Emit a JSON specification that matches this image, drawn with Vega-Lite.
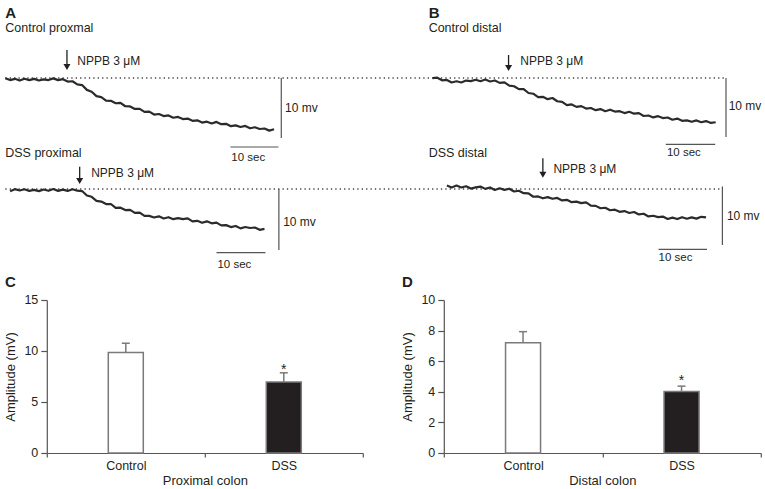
{
  "$schema": "https://vega.github.io/schema/vega-lite/v6.json",
  "padding": {"left": 3.8, "top": 0, "right": 0, "bottom": 0},
  "background": "white",
  "config": {
    "font": "Liberation Sans",
    "view": {"stroke": null},
    "axis": {"domainColor": "#555", "tickColor": "#555", "labelColor": "#231f20", "titleColor": "#231f20", "labelFontSize": 12.5, "titleFontSize": 13, "titleFontWeight": "normal", "domainWidth": 1.2, "tickWidth": 1.2, "grid": false},
    "title": {"fontSize": 15, "fontWeight": "bold", "anchor": "start", "color": "#231f20", "offset": 0}
  },
  "spacing": 30,
  "bounds": "flush",
  "vconcat": [
    {
      "width": 714,
      "height": 270,
      "layer": [
        {
          "data": {"values": [
            {"t": 0, "t2": 150.15, "v": 32},
            {"t": 0, "t2": 149.4, "v": 13.5}
          ]},
          "mark": {"type": "rule", "color": "#444", "strokeWidth": 1.3, "strokeDash": [1.3, 3.1]},
          "encoding": {
            "x": {"field": "t", "type": "quantitative", "scale": {"domain": [8.65, 157.4], "nice": false, "zero": false}, "axis": null},
            "x2": {"field": "t2"},
            "y": {"field": "v", "type": "quantitative", "scale": {"domain": [0, 45], "nice": false, "zero": false}, "axis": null}
          }
        },
        {
          "data": {"values": [
            {"t": 57.5, "t2": 57.5, "v": 32, "v2": 22},
            {"t": 57.0, "t2": 57.0, "v": 13.5, "v2": 3.33},
            {"t": 150.15, "t2": 150.15, "v": 32, "v2": 22.17},
            {"t": 149.4, "t2": 149.4, "v": 13.9, "v2": 4.17},
            {"t": 46.9, "t2": 56.9, "v": 20.5, "v2": 20.5},
            {"t": 44.0, "t2": 54.2, "v": 2.88, "v2": 2.88},
            {"t": 137.6, "t2": 147.9, "v": 20.95, "v2": 20.95},
            {"t": 136.1, "t2": 146.2, "v": 3.45, "v2": 3.45}
          ]},
          "mark": {"type": "rule", "color": "#555", "strokeWidth": 1.2},
          "encoding": {
            "x": {"field": "t", "type": "quantitative"},
            "x2": {"field": "t2"},
            "y": {"field": "v", "type": "quantitative"},
            "y2": {"field": "v2"}
          }
        },
        {
          "data": {"values": [
            {"t": 12.85, "v": 36.67, "v2": 34.0, "tv": 33.83},
            {"t": 15.5, "v": 17.22, "v2": 15.0, "tv": 14.83},
            {"t": 104.85, "v": 35.83, "v2": 33.85, "tv": 33.67},
            {"t": 112.0, "v": 18.62, "v2": 16.05, "tv": 15.88}
          ]},
          "layer": [
            {
              "mark": {"type": "rule", "color": "#231f20", "strokeWidth": 1.3},
              "encoding": {
                "x": {"field": "t", "type": "quantitative"},
                "y": {"field": "v", "type": "quantitative"},
                "y2": {"field": "v2"}
              }
            },
            {
              "mark": {"type": "point", "shape": "triangle-down", "size": 49, "filled": true, "color": "#231f20", "opacity": 1, "strokeWidth": 0},
              "encoding": {
                "x": {"field": "t", "type": "quantitative"},
                "y": {"field": "tv", "type": "quantitative"}
              }
            }
          ]
        },
        {
          "data": {"values": [
            {"s":"A1","t":0,"v":31.97},{"s":"A1","t":1,"v":31.65},{"s":"A1","t":2,"v":31.86},{"s":"A1","t":3,"v":31.57},{"s":"A1","t":4,"v":31.87},{"s":"A1","t":5,"v":31.65},{"s":"A1","t":6,"v":31.85},{"s":"A1","t":7,"v":31.58},{"s":"A1","t":8,"v":31.77},{"s":"A1","t":9,"v":31.66},{"s":"A1","t":10,"v":31.94},{"s":"A1","t":11,"v":31.65},{"s":"A1","t":12,"v":31.8},{"s":"A1","t":13,"v":31.41},{"s":"A1","t":14,"v":31.46},{"s":"A1","t":15,"v":30.93},{"s":"A1","t":16,"v":30.82},{"s":"A1","t":17,"v":30.02},{"s":"A1","t":18,"v":29.71},{"s":"A1","t":19,"v":28.97},{"s":"A1","t":20,"v":28.8},{"s":"A1","t":21,"v":28.22},{"s":"A1","t":22,"v":28.2},{"s":"A1","t":23,"v":27.79},{"s":"A1","t":24,"v":27.85},{"s":"A1","t":25,"v":27.29},{"s":"A1","t":26,"v":27.26},{"s":"A1","t":27,"v":26.84},{"s":"A1","t":28,"v":26.85},{"s":"A1","t":29,"v":26.36},{"s":"A1","t":30,"v":26.39},{"s":"A1","t":31,"v":25.91},{"s":"A1","t":32,"v":26.0},{"s":"A1","t":33,"v":25.65},{"s":"A1","t":34,"v":25.76},{"s":"A1","t":35,"v":25.38},{"s":"A1","t":36,"v":25.51},{"s":"A1","t":37,"v":25.16},{"s":"A1","t":38,"v":25.24},{"s":"A1","t":39,"v":24.86},{"s":"A1","t":40,"v":24.95},{"s":"A1","t":41,"v":24.57},{"s":"A1","t":42,"v":24.72},{"s":"A1","t":43,"v":24.42},{"s":"A1","t":44,"v":24.68},{"s":"A1","t":45,"v":24.31},{"s":"A1","t":46,"v":24.37},{"s":"A1","t":47,"v":23.97},{"s":"A1","t":48,"v":24.11},{"s":"A1","t":49,"v":23.83},{"s":"A1","t":50,"v":24.01},{"s":"A1","t":51,"v":23.62},{"s":"A1","t":52,"v":23.79},{"s":"A1","t":53,"v":23.5},{"s":"A1","t":54,"v":23.58},{"s":"A1","t":55,"v":23.23},{"s":"A1","t":56,"v":23.45},
            {"s":"A2","t":1,"v":13.12},{"s":"A2","t":2,"v":13.47},{"s":"A2","t":3,"v":13.25},{"s":"A2","t":4,"v":13.45},{"s":"A2","t":5,"v":13.18},{"s":"A2","t":6,"v":13.35},{"s":"A2","t":7,"v":13.14},{"s":"A2","t":8,"v":13.42},{"s":"A2","t":9,"v":13.2},{"s":"A2","t":10,"v":13.5},{"s":"A2","t":11,"v":13.19},{"s":"A2","t":12,"v":13.39},{"s":"A2","t":13,"v":13.18},{"s":"A2","t":14,"v":13.47},{"s":"A2","t":15,"v":13.22},{"s":"A2","t":16,"v":13.16},{"s":"A2","t":17,"v":12.42},{"s":"A2","t":18,"v":12.2},{"s":"A2","t":19,"v":11.52},{"s":"A2","t":20,"v":11.4},{"s":"A2","t":21,"v":10.99},{"s":"A2","t":22,"v":11.0},{"s":"A2","t":23,"v":10.34},{"s":"A2","t":24,"v":10.39},{"s":"A2","t":25,"v":9.99},{"s":"A2","t":26,"v":10.02},{"s":"A2","t":27,"v":9.51},{"s":"A2","t":28,"v":9.56},{"s":"A2","t":29,"v":9.01},{"s":"A2","t":30,"v":9.02},{"s":"A2","t":31,"v":8.75},{"s":"A2","t":32,"v":8.94},{"s":"A2","t":33,"v":8.58},{"s":"A2","t":34,"v":8.8},{"s":"A2","t":35,"v":8.47},{"s":"A2","t":36,"v":8.64},{"s":"A2","t":37,"v":8.49},{"s":"A2","t":38,"v":8.6},{"s":"A2","t":39,"v":8.1},{"s":"A2","t":40,"v":8.2},{"s":"A2","t":41,"v":7.87},{"s":"A2","t":42,"v":8.11},{"s":"A2","t":43,"v":7.78},{"s":"A2","t":44,"v":7.9},{"s":"A2","t":45,"v":7.44},{"s":"A2","t":46,"v":7.48},{"s":"A2","t":47,"v":7.15},{"s":"A2","t":48,"v":7.34},{"s":"A2","t":49,"v":6.94},{"s":"A2","t":50,"v":7.17},{"s":"A2","t":51,"v":7.0},{"s":"A2","t":52,"v":7.08},{"s":"A2","t":53,"v":6.7},{"s":"A2","t":54,"v":6.85},
            {"s":"B1","t":89,"v":31.98},{"s":"B1","t":90,"v":32.05},{"s":"B1","t":91,"v":31.62},{"s":"B1","t":92,"v":31.68},{"s":"B1","t":93,"v":31.25},{"s":"B1","t":94,"v":31.45},{"s":"B1","t":95,"v":31.25},{"s":"B1","t":96,"v":31.57},{"s":"B1","t":97,"v":31.48},{"s":"B1","t":98,"v":31.71},{"s":"B1","t":99,"v":31.46},{"s":"B1","t":100,"v":31.75},{"s":"B1","t":101,"v":31.42},{"s":"B1","t":102,"v":31.59},{"s":"B1","t":103,"v":31.19},{"s":"B1","t":104,"v":31.27},{"s":"B1","t":105,"v":30.73},{"s":"B1","t":106,"v":30.63},{"s":"B1","t":107,"v":30.14},{"s":"B1","t":108,"v":30.13},{"s":"B1","t":109,"v":29.5},{"s":"B1","t":110,"v":29.38},{"s":"B1","t":111,"v":28.8},{"s":"B1","t":112,"v":28.86},{"s":"B1","t":113,"v":28.47},{"s":"B1","t":114,"v":28.66},{"s":"B1","t":115,"v":28.13},{"s":"B1","t":116,"v":28.01},{"s":"B1","t":117,"v":27.48},{"s":"B1","t":118,"v":27.59},{"s":"B1","t":119,"v":27.19},{"s":"B1","t":120,"v":27.31},{"s":"B1","t":121,"v":26.9},{"s":"B1","t":122,"v":27.0},{"s":"B1","t":123,"v":26.64},{"s":"B1","t":124,"v":26.82},{"s":"B1","t":125,"v":26.47},{"s":"B1","t":126,"v":26.72},{"s":"B1","t":127,"v":26.41},{"s":"B1","t":128,"v":26.47},{"s":"B1","t":129,"v":26.15},{"s":"B1","t":130,"v":26.37},{"s":"B1","t":131,"v":26.05},{"s":"B1","t":132,"v":26.15},{"s":"B1","t":133,"v":25.67},{"s":"B1","t":134,"v":25.75},{"s":"B1","t":135,"v":25.43},{"s":"B1","t":136,"v":25.64},{"s":"B1","t":137,"v":25.32},{"s":"B1","t":138,"v":25.42},{"s":"B1","t":139,"v":25.04},{"s":"B1","t":140,"v":25.23},{"s":"B1","t":141,"v":24.86},{"s":"B1","t":142,"v":24.93},{"s":"B1","t":143,"v":24.7},{"s":"B1","t":144,"v":24.93},{"s":"B1","t":145,"v":24.63},{"s":"B1","t":146,"v":24.82},{"s":"B1","t":147,"v":24.51},{"s":"B1","t":148,"v":24.63},
            {"s":"B2","t":92,"v":14.08},{"s":"B2","t":93,"v":13.76},{"s":"B2","t":94,"v":14.07},{"s":"B2","t":95,"v":13.75},{"s":"B2","t":96,"v":13.95},{"s":"B2","t":97,"v":13.57},{"s":"B2","t":98,"v":13.78},{"s":"B2","t":99,"v":13.9},{"s":"B2","t":100,"v":13.52},{"s":"B2","t":101,"v":13.76},{"s":"B2","t":102,"v":13.34},{"s":"B2","t":103,"v":13.62},{"s":"B2","t":104,"v":13.35},{"s":"B2","t":105,"v":13.55},{"s":"B2","t":106,"v":13.08},{"s":"B2","t":107,"v":13.21},{"s":"B2","t":108,"v":12.8},{"s":"B2","t":109,"v":12.78},{"s":"B2","t":110,"v":12.21},{"s":"B2","t":111,"v":12.26},{"s":"B2","t":112,"v":11.95},{"s":"B2","t":113,"v":12.15},{"s":"B2","t":114,"v":11.87},{"s":"B2","t":115,"v":12.01},{"s":"B2","t":116,"v":11.59},{"s":"B2","t":117,"v":11.7},{"s":"B2","t":118,"v":11.3},{"s":"B2","t":119,"v":11.4},{"s":"B2","t":120,"v":11.14},{"s":"B2","t":121,"v":11.27},{"s":"B2","t":122,"v":10.74},{"s":"B2","t":123,"v":10.69},{"s":"B2","t":124,"v":10.29},{"s":"B2","t":125,"v":10.37},{"s":"B2","t":126,"v":9.96},{"s":"B2","t":127,"v":10.06},{"s":"B2","t":128,"v":9.69},{"s":"B2","t":129,"v":9.82},{"s":"B2","t":130,"v":9.5},{"s":"B2","t":131,"v":9.66},{"s":"B2","t":132,"v":9.26},{"s":"B2","t":133,"v":9.38},{"s":"B2","t":134,"v":8.93},{"s":"B2","t":135,"v":9.04},{"s":"B2","t":136,"v":8.81},{"s":"B2","t":137,"v":8.9},{"s":"B2","t":138,"v":8.5},{"s":"B2","t":139,"v":8.72},{"s":"B2","t":140,"v":8.49},{"s":"B2","t":141,"v":8.8},{"s":"B2","t":142,"v":8.55},{"s":"B2","t":143,"v":8.77},{"s":"B2","t":144,"v":8.56},{"s":"B2","t":145,"v":8.86},{"s":"B2","t":146,"v":8.76}
          ]},
          "mark": {"type": "line", "color": "#2b2b2b", "strokeWidth": 2.2, "strokeJoin": "round"},
          "encoding": {
            "x": {"field": "t", "type": "quantitative"},
            "y": {"field": "v", "type": "quantitative"},
            "detail": {"field": "s", "type": "nominal"}
          }
        },
        {
          "data": {"values": [
            {"t": 0, "v": 42, "text": "A"},
            {"t": 88.2, "v": 42, "text": "B"}
          ]},
          "mark": {"type": "text", "align": "left", "baseline": "alphabetic", "fontSize": 15, "fontWeight": "bold", "color": "#231f20"},
          "encoding": {
            "x": {"field": "t", "type": "quantitative"},
            "y": {"field": "v", "type": "quantitative"},
            "text": {"field": "text"}
          }
        },
        {
          "data": {"values": [
            {"t": 0, "v": 39.67, "text": "Control proxmal"},
            {"t": 0, "v": 18.83, "text": "DSS proximal"},
            {"t": 88.2, "v": 39.67, "text": "Control distal"},
            {"t": 88.2, "v": 18.83, "text": "DSS distal"}
          ]},
          "mark": {"type": "text", "align": "left", "baseline": "alphabetic", "fontSize": 12.5, "color": "#231f20"},
          "encoding": {
            "x": {"field": "t", "type": "quantitative"},
            "y": {"field": "v", "type": "quantitative"},
            "text": {"field": "text"}
          }
        },
        {
          "data": {"values": [
            {"t": 15.0, "v": 34.17, "text": "NPPB 3 μM"},
            {"t": 17.9, "v": 15.45, "text": "NPPB 3 μM"},
            {"t": 107.3, "v": 34.17, "text": "NPPB 3 μM"},
            {"t": 114.2, "v": 16.12, "text": "NPPB 3 μM"},
            {"t": 58.3, "v": 26.33, "text": "10 mv"},
            {"t": 57.9, "v": 7.33, "text": "10 mv"},
            {"t": 150.7, "v": 26.67, "text": "10 mv"},
            {"t": 150.35, "v": 8.33, "text": "10 mv"}
          ]},
          "mark": {"type": "text", "align": "left", "baseline": "alphabetic", "fontSize": 12, "color": "#231f20"},
          "encoding": {
            "x": {"field": "t", "type": "quantitative"},
            "y": {"field": "v", "type": "quantitative"},
            "text": {"field": "text"}
          }
        },
        {
          "data": {"values": [
            {"t": 47.1, "v": 18.25, "text": "10 sec"},
            {"t": 44.2, "v": 0.33, "text": "10 sec"},
            {"t": 137.85, "v": 18.92, "text": "10 sec"},
            {"t": 136.1, "v": 1.42, "text": "10 sec"}
          ]},
          "mark": {"type": "text", "align": "left", "baseline": "alphabetic", "fontSize": 11.5, "color": "#231f20"},
          "encoding": {
            "x": {"field": "t", "type": "quantitative"},
            "y": {"field": "v", "type": "quantitative"},
            "text": {"field": "text"}
          }
        }
      ]
    },
    {
      "spacing": 81,
      "bounds": "flush",
      "hconcat": [
        {
          "width": 316,
          "height": 153,
          "title": {"text": "C", "anchor": "start", "frame": "bounds"},
          "data": {"values": [
            {"group": "Control", "amp": 9.85, "err": 10.76, "sig": ""},
            {"group": "DSS", "amp": 6.95, "err": 7.86, "sig": "*"}
          ]},
          "encoding": {
            "x": {"field": "group", "type": "nominal", "sort": null, "scale": {"paddingInner": 0, "paddingOuter": 0},
                  "axis": {"title": "Proximal colon", "labelAngle": 0, "tickBand": "extent", "tickSize": 4, "labelPadding": 3, "titlePadding": 2}}
          },
          "layer": [
            {
              "mark": {"type": "rule", "color": "#7a7a7a", "strokeWidth": 1.5},
              "encoding": {
                "y": {"field": "amp", "type": "quantitative", "scale": {"domain": [0, 15], "nice": false}, "axis": {"title": "Amplitude (mV)", "values": [0, 5, 10, 15], "tickSize": 6, "labelPadding": 3, "titlePadding": 6}},
                "y2": {"field": "err"}
              }
            },
            {
              "mark": {"type": "tick", "color": "#7a7a7a", "thickness": 1.5, "size": 8, "opacity": 1},
              "encoding": {
                "y": {"field": "err", "type": "quantitative", "scale": {"domain": [0, 15], "nice": false}, "axis": {"title": "Amplitude (mV)", "values": [0, 5, 10, 15], "tickSize": 6, "labelPadding": 3, "titlePadding": 6}}
              }
            },
            {
              "mark": {"type": "bar", "width": 35, "stroke": "#7a7a7a", "strokeWidth": 1.5},
              "encoding": {
                "y": {"field": "amp", "type": "quantitative", "scale": {"domain": [0, 15], "nice": false}, "axis": {"title": "Amplitude (mV)", "values": [0, 5, 10, 15], "tickSize": 6, "labelPadding": 3, "titlePadding": 6}},
                "fill": {"field": "group", "type": "nominal", "scale": {"domain": ["Control", "DSS"], "range": ["#ffffff", "#231f20"]}, "legend": null}
              }
            },
            {
              "mark": {"type": "text", "fontSize": 14, "baseline": "alphabetic", "dy": 1, "color": "#231f20"},
              "encoding": {
                "y": {"field": "err", "type": "quantitative", "scale": {"domain": [0, 15], "nice": false}, "axis": {"title": "Amplitude (mV)", "values": [0, 5, 10, 15], "tickSize": 6, "labelPadding": 3, "titlePadding": 6}},
                "text": {"field": "sig"}
              }
            }
          ]
        },
        {
          "width": 317,
          "height": 153,
          "title": {"text": "D", "anchor": "start", "frame": "bounds"},
          "data": {"values": [
            {"group": "Control", "amp": 7.2, "err": 7.93, "sig": ""},
            {"group": "DSS", "amp": 4.02, "err": 4.37, "sig": "*"}
          ]},
          "encoding": {
            "x": {"field": "group", "type": "nominal", "sort": null, "scale": {"paddingInner": 0, "paddingOuter": 0},
                  "axis": {"title": "Distal colon", "labelAngle": 0, "tickBand": "extent", "tickSize": 4, "labelPadding": 3, "titlePadding": 2}}
          },
          "layer": [
            {
              "mark": {"type": "rule", "color": "#7a7a7a", "strokeWidth": 1.5},
              "encoding": {
                "y": {"field": "amp", "type": "quantitative", "scale": {"domain": [0, 10], "nice": false}, "axis": {"title": "Amplitude (mV)", "values": [0, 2, 4, 6, 8, 10], "tickSize": 6, "labelPadding": 3, "titlePadding": 6}},
                "y2": {"field": "err"}
              }
            },
            {
              "mark": {"type": "tick", "color": "#7a7a7a", "thickness": 1.5, "size": 8, "opacity": 1},
              "encoding": {
                "y": {"field": "err", "type": "quantitative", "scale": {"domain": [0, 10], "nice": false}, "axis": {"title": "Amplitude (mV)", "values": [0, 2, 4, 6, 8, 10], "tickSize": 6, "labelPadding": 3, "titlePadding": 6}}
              }
            },
            {
              "mark": {"type": "bar", "width": 35, "stroke": "#7a7a7a", "strokeWidth": 1.5},
              "encoding": {
                "y": {"field": "amp", "type": "quantitative", "scale": {"domain": [0, 10], "nice": false}, "axis": {"title": "Amplitude (mV)", "values": [0, 2, 4, 6, 8, 10], "tickSize": 6, "labelPadding": 3, "titlePadding": 6}},
                "fill": {"field": "group", "type": "nominal", "scale": {"domain": ["Control", "DSS"], "range": ["#ffffff", "#231f20"]}, "legend": null}
              }
            },
            {
              "mark": {"type": "text", "fontSize": 14, "baseline": "alphabetic", "dy": -1, "color": "#231f20"},
              "encoding": {
                "y": {"field": "err", "type": "quantitative", "scale": {"domain": [0, 10], "nice": false}, "axis": {"title": "Amplitude (mV)", "values": [0, 2, 4, 6, 8, 10], "tickSize": 6, "labelPadding": 3, "titlePadding": 6}},
                "text": {"field": "sig"}
              }
            }
          ]
        }
      ]
    }
  ]
}
